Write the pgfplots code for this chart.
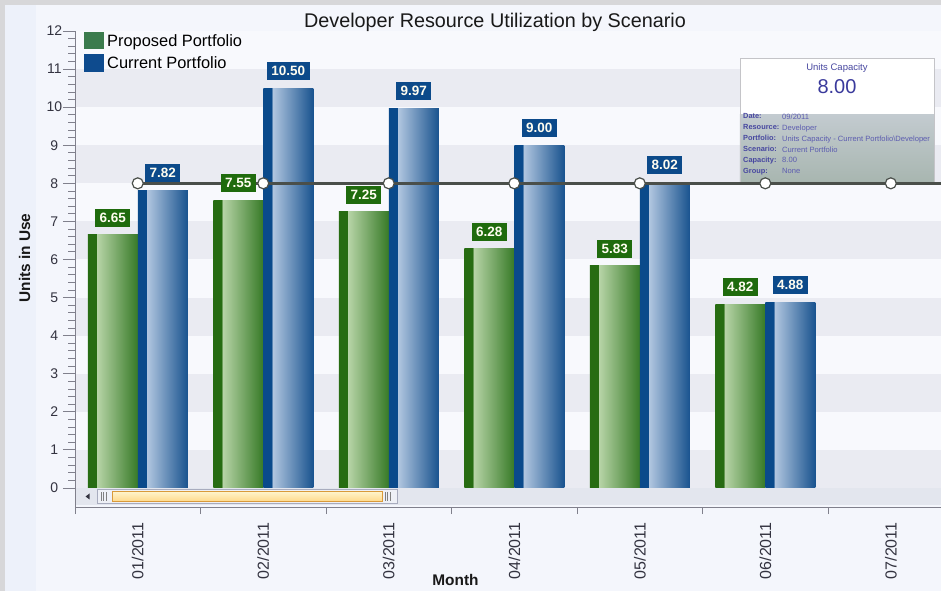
\documentclass[border=0pt]{standalone}
\usepackage{fontspec}
\setmainfont{Liberation Sans}
\usepackage{pgfplots}
\usepackage{pgfplotstable}
\pgfplotsset{compat=1.18}

\definecolor{framegray}{HTML}{D7D7D9}
\definecolor{bgmain}{HTML}{F4F6FC}
\definecolor{bgleft}{HTML}{EDF1FA}
\definecolor{stripeA}{HTML}{F8F9FD}
\definecolor{stripeB}{HTML}{EAEBF2}
\definecolor{gdark}{HTML}{276C12}
\definecolor{glight}{HTML}{B8D5A8}
\definecolor{gend}{HTML}{377A27}
\definecolor{bdark}{HTML}{0A4A8B}
\definecolor{blight}{HTML}{B2C7E0}
\definecolor{bend}{HTML}{19538F}
\definecolor{glab}{HTML}{1F6B0D}
\definecolor{blab}{HTML}{0C4A8A}
\definecolor{labtext}{HTML}{FFFDF0}
\definecolor{capline}{HTML}{4A4F4A}
\definecolor{axisgray}{HTML}{80808C}
\definecolor{ticktext}{HTML}{333340}
\definecolor{tiptext}{HTML}{4747A0}
\definecolor{tipval}{HTML}{5C5CB0}
\definecolor{tipbig}{HTML}{3A3A9C}
\definecolor{tipborder}{HTML}{C4C4C8}
\definecolor{tipgA}{HTML}{C3CBD0}
\definecolor{tipgB}{HTML}{A8B6B0}
\definecolor{legG}{HTML}{3B7B4D}
\definecolor{legB}{HTML}{0E4B8E}
\definecolor{track}{HTML}{E3E6EE}
\definecolor{trackline}{HTML}{9496AC}
\definecolor{thumbbg}{HTML}{EEF0F6}
\definecolor{thumbbd}{HTML}{A8ACBE}
\definecolor{yellA}{HTML}{FFF4CC}
\definecolor{yellB}{HTML}{FFD98A}
\definecolor{yellbd}{HTML}{D99A3A}

\pgfdeclarehorizontalshading{greenbar}{100bp}{color(0bp)=(gdark); color(25bp)=(gdark); color(33.5bp)=(gdark); color(34bp)=(glight); color(75bp)=(gend); color(100bp)=(gend)}
\pgfdeclarehorizontalshading{bluebar}{100bp}{color(0bp)=(bdark); color(25bp)=(bdark); color(33.5bp)=(bdark); color(34bp)=(blight); color(75bp)=(bend); color(100bp)=(bend)}

\pgfplotstableread{
x g b
0 6.65 7.82
1 7.55 10.50
2 7.25 9.97
3 6.28 9.00
4 5.83 8.02
5 4.82 4.88
}\datatable

\begin{document}
\begin{tikzpicture}
\useasboundingbox (0pt,0pt) rectangle (941pt,591pt);
\fill[bgmain] (0pt,0pt) rectangle (941pt,591pt);
\fill[bgleft] (0pt,0pt) rectangle (36pt,591pt);
\fill[framegray] (0pt,586pt) rectangle (941pt,591pt);
\fill[framegray] (0pt,0pt) rectangle (5pt,591pt);
% scrollbar
\fill[track] (75pt,86pt) rectangle (941pt,103pt);
\draw[trackline, line width=1pt] (75pt,103pt) -- (941pt,103pt);
\fill[ticktext] (85.5pt,94.5pt) -- (89.5pt,97.5pt) -- (89.5pt,91.5pt) -- cycle;
\draw[thumbbd, fill=thumbbg, line width=0.8pt] (97pt,87.5pt) rectangle (397pt,101.5pt);
\foreach \xx in {101,103.5,106,385,387.5,390} \draw[gray, line width=0.7pt] (\xx pt,90pt) -- (\xx pt,99pt);
\draw[yellbd, top color=yellA, bottom color=yellB, line width=0.8pt] (112pt,89.5pt) rectangle (382pt,99.5pt);

\begin{axis}[
  at={(75pt,84pt)}, anchor=south west,
  scale only axis, width=866pt, height=476pt,
  xmin=-0.5, xmax=6.4, ymin=-0.5, ymax=12,
  axis lines*=left, axis on top,
  axis line style={draw=axisgray, line width=1pt},
  tick style={draw=axisgray, line width=0.8pt},
  tick align=outside,
  major tick length=12pt, minor tick length=7pt,
  ytick={0,...,12},
  minor ytick={0.2,0.4,...,11.9},
  xtick={0,...,6},
  xticklabels={01/2011,02/2011,03/2011,04/2011,05/2011,06/2011,07/2011},
  minor xtick={-0.5,0.5,...,5.5},
  major x tick style={draw=none},
  xticklabel style={rotate=90, anchor=east, font=\fontsize{16}{18}\selectfont, text=ticktext},
  yticklabel style={font=\fontsize{14}{16}\selectfont, text=ticktext, text width=17pt, align=center, inner sep=0pt},
  /pgf/number format/assume math mode=true,
]
\fill[stripeA] (axis cs:-0.5,0) rectangle (axis cs:6.4,12);
\fill[stripeB] (axis cs:-0.5,0) rectangle (axis cs:6.4,1);
\fill[stripeB] (axis cs:-0.5,2) rectangle (axis cs:6.4,3);
\fill[stripeB] (axis cs:-0.5,4) rectangle (axis cs:6.4,5);
\fill[stripeB] (axis cs:-0.5,6) rectangle (axis cs:6.4,7);
\fill[stripeB] (axis cs:-0.5,8) rectangle (axis cs:6.4,9);
\fill[stripeB] (axis cs:-0.5,10) rectangle (axis cs:6.4,11);

\pgfplotsinvokeforeach{0,...,5}{
\addplot[ybar, bar width=50pt, bar shift=-25pt, draw=none, shade, shading=greenbar,
  restrict x to domain=#1:#1, forget plot,
  nodes near coords={\pgfmathprintnumber[fixed,fixed zerofill,precision=2]{\pgfplotspointmeta}},
  nodes near coords style={fill=glab, text=labtext, font=\bfseries\fontsize{13.5}{15}\selectfont, inner xsep=4.5pt, inner ysep=2pt, minimum height=18pt, anchor=south, yshift=8pt, xshift=-25pt}]
  table[x=x, y=g] {\datatable};
\addplot[ybar, bar width=50pt, bar shift=25pt, draw=none, shade, shading=bluebar,
  restrict x to domain=#1:#1, forget plot,
  nodes near coords={\pgfmathprintnumber[fixed,fixed zerofill,precision=2]{\pgfplotspointmeta}},
  nodes near coords style={fill=blab, text=labtext, font=\bfseries\fontsize{13.5}{15}\selectfont, inner xsep=4.5pt, inner ysep=2pt, minimum height=18pt, anchor=south, yshift=8pt, xshift=25pt}]
  table[x=x, y=b] {\datatable};
}

% tooltip
\fill[white] (axis cs:4.798,8.035) rectangle (axis cs:6.344,11.29);
\fill[top color=tipgA, bottom color=tipgB] (axis cs:4.798,8.035) rectangle (axis cs:6.344,9.82);
\draw[tipborder, line width=0.8pt] (axis cs:4.798,8.035) rectangle (axis cs:6.344,11.29);
\node[font=\fontsize{9.5}{10}\selectfont, text=tiptext] at (axis cs:5.571,11.028) {Units Capacity};
\node[font=\fontsize{20}{22}\selectfont, text=tipbig] at (axis cs:5.571,10.53) {8.00};
\node[anchor=north west, inner sep=0pt, align=left, text=tiptext, font=\bfseries\fontsize{7.4}{10.9}\selectfont] at (axis cs:4.822,9.83) {Date:\\Resource:\\Portfolio:\\Scenario:\\Capacity:\\Group:};
\node[anchor=north west, inner sep=0pt, align=left, text=tipval, font=\fontsize{7.6}{10.9}\selectfont] at (axis cs:5.133,9.83) {09/2011\\Developer\\Units Capacity - Current Portfolio\textbackslash Developer\\Current Portfolio\\8.00\\None};

\addplot[capline, line width=3pt, no markers] coordinates {(0,8) (6.4,8)};
\addplot[only marks, mark=*, mark size=5.5pt, mark options={fill=white, draw=capline, line width=1.2pt}]
coordinates {(0,8) (1,8) (2,8) (3,8) (4,8) (5,8) (6,8)};
\end{axis}

% legend
\fill[legG] (84pt,542pt) rectangle (104pt,559pt);
\fill[legB] (84pt,519pt) rectangle (104pt,537pt);
\node[anchor=base west, inner sep=0pt, font=\fontsize{16.4}{18}\selectfont] at (107pt,544.3pt) {Proposed Portfolio};
\node[anchor=base west, inner sep=0pt, font=\fontsize{16.4}{18}\selectfont] at (107pt,522.7pt) {Current Portfolio};
% title and axis titles
\node[anchor=base, inner sep=0pt, font=\fontsize{19.8}{22}\selectfont, text=black!90] at (495pt,563pt) {Developer Resource Utilization by Scenario};
\node[anchor=base, inner sep=0pt, font=\bfseries\fontsize{15.4}{17}\selectfont, text=black!90] at (455.5pt,6pt) {Month};
\node[anchor=base, inner sep=0pt, rotate=90, font=\bfseries\fontsize{15.4}{17}\selectfont, text=black!90] at (30pt,333pt) {Units in Use};
\end{tikzpicture}
\end{document}
